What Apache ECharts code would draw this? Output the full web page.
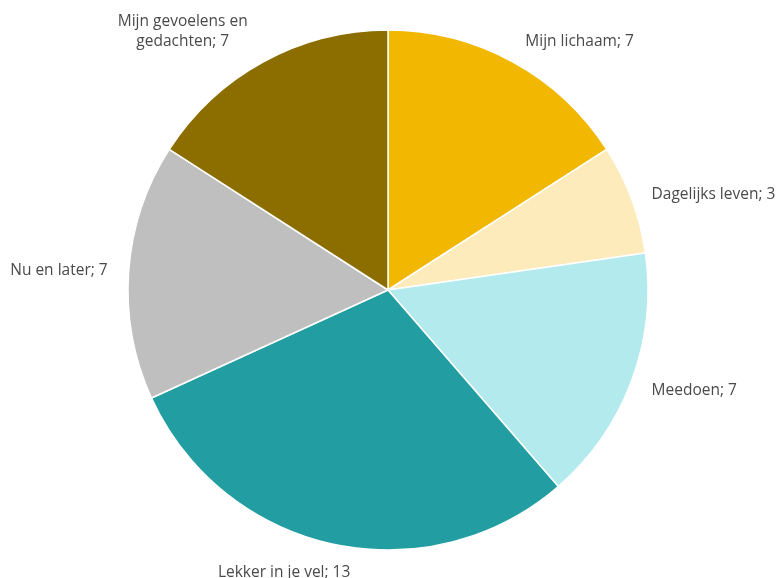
<!DOCTYPE html>
<html>
<head>
<meta charset="utf-8">
<script src="https://cdn.jsdelivr.net/npm/echarts@6/dist/echarts.min.js"></script>
<style>
html,body{margin:0;padding:0;background:#fff;}
#main{width:776px;height:578px;}
</style>
</head>
<body>
<div id="main"></div>
<script>
const categories = ['Mijn lichaam', 'Dagelijks leven', 'Meedoen', 'Lekker in je vel', 'Nu en later', 'Mijn gevoelens en gedachten'];
const values = [7, 3, 7, 13, 7, 7];
const colors = ['#F2B700', '#FDEBBB', '#B3EAEE', '#229EA3', '#BFBFBF', '#8C6D00'];
const FONT = 'Open Sans';
const FS = 15.5;

const data = categories.map((c, i) => {
  const item = { name: c, value: values[i], itemStyle: { color: colors[i] } };
  if (c === 'Mijn gevoelens en gedachten') {
    item.label = {
      formatter: '{a|Mijn gevoelens en}\n{a|gedachten; ' + values[i] + '}',
      rich: { a: { width: 140, align: 'center', fontFamily: FONT, fontSize: FS, color: '#4a4a4a', lineHeight: 20 } }
    };
  }
  return item;
});

// small label nudges (text offsets only)
const labelNudge = { 0: [0, -6], 1: [0, 1], 2: [0, 4], 3: [26, 13], 5: [2, -16] };

const chart = echarts.init(document.getElementById('main'), null, { renderer: 'canvas' });
chart.setOption({
  animation: false,
  backgroundColor: '#fff',
  series: [{
    type: 'pie',
    center: [388, 290],
    radius: 260,
    startAngle: 90,
    clockwise: true,
    avoidLabelOverlap: false,
    data: data,
    itemStyle: { borderColor: '#fff', borderWidth: 1.5 },
    label: {
      show: true,
      position: 'outside',
      formatter: '{b}; {c}',
      fontFamily: FONT,
      fontSize: FS,
      color: '#4a4a4a'
    },
    labelLine: { show: false, length: 16, length2: 0 },
    labelLayout: function (p) {
      const n = labelNudge[p.dataIndex];
      return n ? { dx: n[0], dy: n[1] } : {};
    },
    emphasis: { disabled: true }
  }]
});
</script>
</body>
</html>
